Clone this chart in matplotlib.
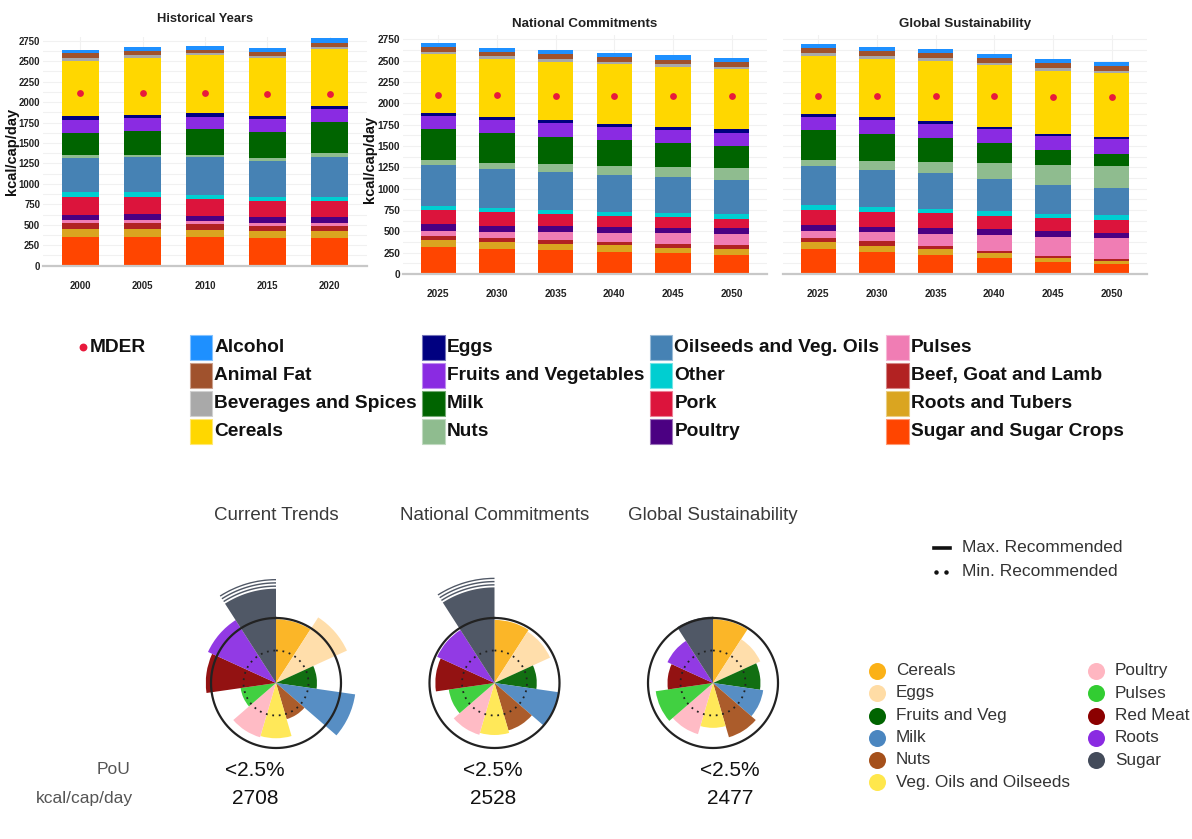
import numpy as np
import matplotlib.pyplot as plt
from matplotlib.patches import Rectangle
from matplotlib.colors import to_rgb

# -----------------------------
# Food supply by group (kcal/cap/day)
# columns follow food_groups, rows follow the years
# -----------------------------
food_groups = ["Alcohol", "Animal Fat", "Beverages and Spices", "Cereals",
               "Eggs", "Fruits and Vegetables", "Milk", "Nuts",
               "Oilseeds and Veg. Oils", "Other", "Pork", "Poultry",
               "Pulses", "Beef, Goat and Lamb", "Roots and Tubers",
               "Sugar and Sugar Crops"]
food_colors = ["#1E90FF", "#A0522D", "#A9A9A9", "#FFD700",
               "#000080", "#8A2BE2", "#006400", "#8FBC8F",
               "#4682B4", "#00CED1", "#DC143C", "#4B0082",
               "#F07DB4", "#B22222", "#DAA520", "#FF4500"]

hist_years = [2000, 2005, 2010, 2015, 2020]
hist_kcal = np.array([
    [41, 53, 37, 672, 53, 155, 277, 28, 416, 61, 224, 61, 32, 74, 106, 346],
    [45, 49, 33, 696, 45, 155, 293, 21, 436, 53, 216, 69, 41, 65, 98, 354],
    [41, 40, 25, 713, 41, 155, 313, 29, 456, 57, 204, 61, 37, 73, 90, 346],
    [45, 48, 29, 705, 36, 163, 318, 33, 436, 53, 191, 73, 37, 61, 86, 342],
    [52, 49, 33, 693, 40, 151, 387, 41, 489, 53, 191, 73, 45, 57, 90, 334],
])
hist_mder = [2110, 2110, 2105, 2100, 2095]

proj_years = [2025, 2030, 2035, 2040, 2045, 2050]
natcom_kcal = np.array([
    [47, 51, 31, 683, 40, 152, 363, 59, 476, 51, 168, 74, 59, 51, 86, 312],
    [47, 50, 36, 679, 35, 157, 343, 75, 453, 54, 157, 78, 70, 47, 78, 293],
    [47, 62, 28, 683, 39, 157, 324, 90, 445, 51, 137, 74, 86, 50, 75, 277],
    [47, 59, 31, 699, 39, 149, 301, 109, 430, 50, 125, 71, 105, 43, 74, 262],
    [54, 51, 35, 703, 32, 156, 281, 117, 422, 47, 121, 66, 125, 47, 63, 242],
    [47, 58, 32, 703, 39, 156, 262, 137, 402, 54, 110, 66, 133, 47, 66, 223],
])
natcom_mder = [2094, 2094, 2090, 2086, 2082, 2082]

globsus_kcal = np.array([
    [51, 50, 36, 683, 31, 157, 351, 70, 461, 55, 180, 66, 78, 55, 74, 297],
    [51, 55, 35, 687, 35, 157, 316, 105, 438, 55, 175, 67, 105, 51, 70, 262],
    [47, 59, 31, 703, 35, 160, 282, 136, 414, 55, 172, 66, 141, 43, 62, 227],
    [47, 59, 31, 722, 24, 168, 234, 184, 379, 50, 161, 66, 184, 31, 58, 184],
    [50, 55, 35, 735, 23, 172, 176, 230, 340, 51, 152, 63, 226, 27, 43, 141],
    [47, 54, 32, 742, 23, 176, 144, 262, 313, 54, 153, 58, 250, 24, 39, 113],
])
globsus_mder = [2090, 2090, 2086, 2082, 2074, 2074]

# -----------------------------
# Diet wheels: intake relative to the maximum recommended intake
# -----------------------------
diet_groups = ["Cereals", "Eggs", "Fruits and Veg", "Milk", "Nuts",
               "Veg. Oils and Oilseeds", "Poultry", "Pulses", "Red Meat",
               "Roots", "Sugar"]
diet_colors = ["#FBB117", "#FFDCA5", "#006400", "#4A86C0", "#A5501B",
               "#FFE74C", "#FFB6C1", "#32CD32", "#8B0000", "#8A2BE2",
               "#434B5A"]
wheel_titles = ["Current Trends", "National Commitments", "Global Sustainability"]
wheel_current = [0.98, 1.20, 0.63, 1.23, 0.58, 0.85, 0.87, 0.55, 1.08, 1.15, 1.60]
wheel_natcom = [0.97, 0.94, 0.65, 1.00, 0.76, 0.80, 0.83, 0.71, 0.91, 0.97, 1.62]
wheel_globsus = [0.98, 0.80, 0.73, 0.78, 0.87, 0.69, 0.82, 0.89, 0.70, 0.77, 1.02]
max_recommended = 1.0
min_recommended = 0.5
wheel_pou = ["<2.5%", "<2.5%", "<2.5%"]
wheel_kcal = [2708, 2528, 2477]

# -----------------------------
# Figure setup
# -----------------------------
W, H = 1192, 839
fig = plt.figure(figsize=(W / 100, H / 100), dpi=100)

SANS = ['Liberation Sans', 'DejaVu Sans']


def px_box(x0, y0, x1, y1):
    # figure-fraction box from pixel edges (origin top-left)
    return [x0 / W, 1 - y1 / H, (x1 - x0) / W, (y1 - y0) / H]


def stacked_panel(box, title, years, kcal, mder, show_y, title_y, ylab_xy,
                  tick_size, title_size):
    ax = fig.add_axes(px_box(*box))
    x = np.arange(len(years))
    bottom = np.zeros(len(years))
    for j in range(len(food_groups) - 1, -1, -1):
        ax.bar(x, kcal[:, j], width=0.6, bottom=bottom, color=food_colors[j],
               linewidth=0, zorder=2)
        bottom += kcal[:, j]
    ax.scatter(x, mder, s=24, color="#E8193C", linewidths=0, zorder=3)

    ax.set_xlim(-0.6, len(years) - 0.4)
    ax.set_ylim(0, 2800)
    ax.set_yticks(np.arange(0, 2751, 250))
    ax.set_yticks(np.arange(125, 2800, 250), minor=True)
    ax.set_xticks(x, [str(y) for y in years])
    ax.grid(True, which="both", color="#F1F1F1", linewidth=0.8, zorder=0)
    ax.set_axisbelow(True)
    for s in ["top", "right", "left"]:
        ax.spines[s].set_visible(False)
    ax.spines["bottom"].set_color("#C8C8C8")
    ax.spines["bottom"].set_linewidth(1.6)
    ax.tick_params(which="both", length=0)
    ax.tick_params(axis="x", pad=11)
    ax.tick_params(axis="y", pad=2)
    for lab in ax.get_xticklabels() + ax.get_yticklabels():
        lab.set_fontfamily(SANS)
        lab.set_fontweight("bold")
        lab.set_fontsize(tick_size)
        lab.set_color("#222222")
    if show_y:
        ax.set_ylabel("kcal/cap/day", fontfamily=SANS, fontweight="bold",
                      fontsize=10.5, color="#111111")
        ax.yaxis.set_label_coords(*ylab_xy)
    else:
        ax.set_yticklabels([])
    ax.text(0.5, title_y, title, transform=ax.transAxes, ha="center",
            va="center", fontfamily=SANS, fontweight="bold",
            fontsize=title_size, color="#222222")
    return ax


stacked_panel((43, 36.6, 367, 265.7), "Historical Years", hist_years,
              hist_kcal, hist_mder, True, 1.078, (-0.074, 0.5), 6.9, 9.3)
stacked_panel((403, 35, 767, 274), "National Commitments", proj_years,
              natcom_kcal, natcom_mder, True, 1.047, (-0.071, 0.48), 7.3, 9.6)
stacked_panel((783, 35, 1147, 274), "Global Sustainability", proj_years,
              globsus_kcal, globsus_mder, False, 1.047, (0, 0), 7.3, 9.6)

# -----------------------------
# Diet wheels
# -----------------------------
wheel_centers = [276, 494.5, 713]
wheel_cy = 683
unit_px = 65.0
rmax = 1.75
n = len(diet_groups)
step = 2 * np.pi / n
theta = np.arange(n) * step
circle_t = np.linspace(0, 2 * np.pi, 361)

for cx, values in zip(wheel_centers, [wheel_current, wheel_natcom, wheel_globsus]):
    half = rmax * unit_px
    pax = fig.add_axes(px_box(cx - half, wheel_cy - half, cx + half, wheel_cy + half),
                       projection="polar")
    pax.set_theta_zero_location("N")
    pax.set_theta_direction(-1)
    pax.set_ylim(0, rmax)
    pax.set_axis_off()
    pax.bar(theta, values, width=step, align="edge", color=diet_colors,
            alpha=0.93, linewidth=0, zorder=2)
    # clipped bars get white break marks near their end
    for i, v in enumerate(values):
        if v > 1.5:
            tt = np.linspace(theta[i] - 0.04, theta[i] + step, 30)
            for off in (0.035, 0.085, 0.135):
                pax.plot(tt, np.full_like(tt, v - off), color="white",
                         linewidth=1.3, zorder=3)
    pax.plot(circle_t, np.full_like(circle_t, max_recommended),
             color="#222222", linewidth=1.6, zorder=4)
    pax.plot(circle_t, np.full_like(circle_t, min_recommended),
             color="#222222", linewidth=1.3, linestyle=(0, (1, 2.6)), zorder=4)

# -----------------------------
# Legends and annotations (pixel overlay)
# -----------------------------
ov = fig.add_axes([0, 0, 1, 1], facecolor="none")
ov.set_xlim(0, W)
ov.set_ylim(H, 0)
ov.axis("off")

# food group legend
ov.scatter([82.5], [347], s=32, color="#E8193C", linewidths=0)
ov.text(90, 347, "MDER", fontfamily=SANS, fontweight="bold", fontsize=13.8,
        va="center", ha="left", color="#111111")
col_x = [189.5, 422, 649.5, 886]
row_y = [347, 375.3, 403.3, 431.4]
for k, (name, col) in enumerate(zip(food_groups, food_colors)):
    cx, ry = col_x[k // 4], row_y[k % 4]
    edge = 0.55 * np.array(to_rgb(col)) + 0.45
    ov.add_patch(Rectangle((cx, ry - 12.5), 22.5, 25, facecolor=col,
                           edgecolor=edge, linewidth=0.8))
    ov.text(cx + 25, ry, name, fontfamily=SANS, fontweight="bold",
            fontsize=13.8, va="center", ha="left", color="#111111")

# wheel titles and summary rows
for cx, title in zip(wheel_centers, wheel_titles):
    ov.text(cx, 516, title, fontfamily=SANS, fontsize=13.5, ha="center",
            va="center", color="#3A3A3A")
ov.text(131, 770, "PoU", fontfamily=SANS, fontsize=12.5, ha="right",
        va="center", color="#555555")
ov.text(133, 799, "kcal/cap/day", fontfamily=SANS, fontsize=12.5, ha="right",
        va="center", color="#555555")
for vx, pou, kc in zip([255, 493, 730], wheel_pou, wheel_kcal):
    ov.text(vx, 770, pou, fontfamily=SANS, fontsize=15, ha="center",
            va="center", color="#111111")
    ov.text(vx, 799, str(kc), fontfamily=SANS, fontsize=15, ha="center",
            va="center", color="#111111")

# recommendation legend
ov.plot([934, 950], [548, 548], color="#111111", linewidth=2.6)
ov.plot([936, 946], [572, 572], linestyle="none", marker="o", markersize=2.2,
        color="#111111")
ov.text(962, 548, "Max. Recommended", fontfamily=SANS, fontsize=12.5,
        va="center", ha="left", color="#333333")
ov.text(962, 571, "Min. Recommended", fontfamily=SANS, fontsize=12.5,
        va="center", ha="left", color="#333333")

# diet group legend
dcol_x = [877, 1096]
drow_y = [670.5, 693, 715.5, 738, 760, 782]
for k, (name, col) in enumerate(zip(diet_groups, diet_colors)):
    cx, ry = dcol_x[k // 6], drow_y[k % 6]
    ov.scatter([cx], [ry], s=150, color=col, linewidths=0)
    ov.text(cx + 19, ry, name, fontfamily=SANS, fontsize=12.3, va="center",
            ha="left", color="#333333")

fig.savefig("out.png", dpi=100)
plt.close(fig)
